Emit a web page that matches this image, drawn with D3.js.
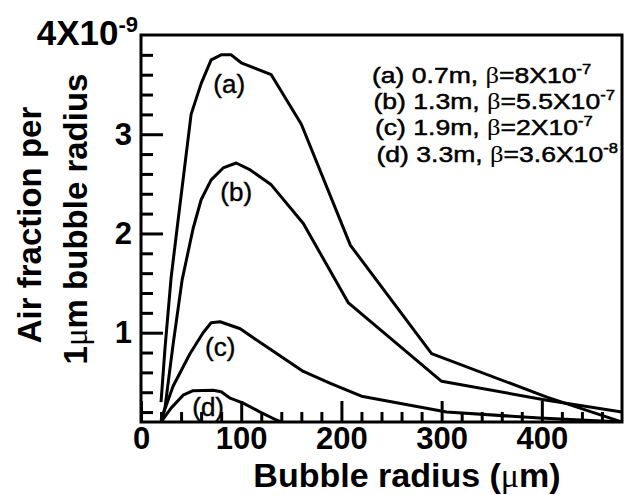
<!DOCTYPE html>
<html>
<head>
<meta charset="utf-8">
<script src="https://cdn.jsdelivr.net/npm/d3@7"></script>
<style>
  body { margin: 0; background: #fff; }
  text { font-family: "Liberation Sans", Arial, Helvetica, sans-serif; fill: #000; }
</style>
</head>
<body>
<svg id="chart" width="626" height="495"></svg>
<script>
// curve values (radius in um, air fraction in 1e-9)
const radiusA = [20, 24, 30, 36, 50, 60, 70, 80, 90, 100, 130, 160, 209, 290, 405, 480]
const fracA   = [0.3, 0.85, 1.55, 2.05, 3.2, 3.51, 3.75, 3.8, 3.8, 3.72, 3.6, 3.1, 1.88, 0.79, 0.35, 0.1]
const radiusB = [21, 24, 32, 41, 52, 60, 70, 82, 95, 109, 130, 162, 207, 300, 405, 480]
const fracB   = [0.13, 0.25, 0.88, 1.53, 2.05, 2.34, 2.54, 2.66, 2.71, 2.64, 2.49, 2.1, 1.3, 0.51, 0.32, 0.2]
const radiusC = [20, 32, 49, 62, 70, 79, 99, 122, 162, 189, 220, 305, 398, 480]
const fracC   = [0.12, 0.46, 0.79, 1.0, 1.1, 1.11, 1.04, 0.88, 0.61, 0.49, 0.36, 0.2, 0.14, 0.1]
const radiusD = [20, 30, 42, 52, 72, 80, 89, 102, 119, 135, 145]
const fracD   = [0.1, 0.24, 0.37, 0.415, 0.42, 0.405, 0.34, 0.29, 0.2, 0.12, 0.08]

const curveTags = ['(a)', '(b)', '(c)', '(d)']
const depths = ['0.7m', '1.3m', '1.9m', '3.3m']
const betaMantissa = ['8', '5.5', '2', '3.6']
const betaExponent = ['-7', '-7', '-7', '-8']

const xMajorTicks = [0, 100, 200, 300, 400]
const yMajorTicks = [1, 2, 3]
const yTopLabel = '4X10'
const yTopExponent = '-9'

const series = [
    d3.zip(radiusA, fracA),
    d3.zip(radiusB, fracB),
    d3.zip(radiusC, fracC),
    d3.zip(radiusD, fracD)
]

// where the (a)..(d) tags sit, in data units
const tagAt = [[88, 3.51], [95, 2.42], [79, 0.86], [67, 0.25]]

const svg = d3.select('#chart')
const x = d3.scaleLinear().domain([0, 480]).range([141, 622])
const y = d3.scaleLinear().domain([0.1, 4]).range([422, 35])

svg.append('clipPath').attr('id', 'plot')
    .append('rect')
    .attr('x', x(0)).attr('y', y(4))
    .attr('width', x(480) - x(0)).attr('height', y(0.1) - y(4))

// inward minor / major ticks
const xMinor = d3.range(20, 480, 20).filter(d => d % 100 !== 0)
const yMinor = d3.range(0.2, 4, 0.2).filter(d => Math.abs(d - Math.round(d)) > 0.01)

const styleAxis = g => {
    g.select('.domain').remove()
    g.selectAll('line').attr('stroke', '#000').attr('stroke-width', 3)
    g.selectAll('text').attr('font-size', 31).attr('font-weight', 'bold').attr('fill', '#000')
}

svg.append('g').attr('transform', `translate(0,${y(0.1)})`)
    .call(d3.axisBottom(x).tickValues(xMinor).tickSize(-10).tickFormat(''))
    .call(styleAxis)
svg.append('g').attr('transform', `translate(0,${y(0.1)})`)
    .call(d3.axisBottom(x).tickValues(xMajorTicks).tickSize(-21).tickPadding(5).tickFormat(d3.format('d')))
    .call(styleAxis)

svg.append('g').attr('transform', `translate(${x(0)},0)`)
    .call(d3.axisLeft(y).tickValues(yMinor).tickSize(-12).tickFormat(''))
    .call(styleAxis)
svg.append('g').attr('transform', `translate(${x(0)},0)`)
    .call(d3.axisLeft(y).tickValues(yMajorTicks).tickSize(-22).tickPadding(9).tickFormat(d3.format('d')))
    .call(styleAxis)

// 4X10^-9 at the top of the y axis
const topLabel = svg.append('text')
    .attr('x', x(0) - 3).attr('y', y(4) + 10)
    .attr('text-anchor', 'end')
    .attr('font-size', 35).attr('font-weight', 'bold')
topLabel.append('tspan').text(yTopLabel)
topLabel.append('tspan').attr('font-size', 22).attr('dy', -13).text(yTopExponent)

// frame
svg.append('rect')
    .attr('x', x(0)).attr('y', y(4))
    .attr('width', x(480) - x(0)).attr('height', y(0.1) - y(4))
    .attr('fill', 'none').attr('stroke', '#000').attr('stroke-width', 3)

const line = d3.line().x(d => x(d[0])).y(d => y(d[1]))

svg.append('g').attr('clip-path', 'url(#plot)')
    .selectAll('path')
    .data(series)
    .join('path')
    .attr('d', line)
    .attr('fill', 'none')
    .attr('stroke', '#000')
    .attr('stroke-width', 3)
    .attr('stroke-linejoin', 'round')

svg.selectAll('text.tag')
    .data(curveTags)
    .join('text')
    .attr('class', 'tag')
    .attr('x', (d, i) => x(tagAt[i][0]))
    .attr('y', (d, i) => y(tagAt[i][1]))
    .attr('dy', '0.35em')
    .attr('text-anchor', 'middle')
    .attr('font-size', 26)
    .attr('stroke', '#000').attr('stroke-width', 0.4)
    .text(d => d)

// legend: the scanned font is wider than Arial, so stretch it a bit
const legend = svg.append('g')
curveTags.forEach((tag, i) => {
    const t = legend.append('text')
        .attr('transform', `translate(${372 + i * 1.5},${83 + i * 26.2}) scale(1.18,1)`)
        .attr('font-size', 22.5)
        .attr('stroke', '#000').attr('stroke-width', 0.5)
    t.append('tspan').text(`${tag} ${depths[i]}, `)
    t.append('tspan').attr('font-family', '"Liberation Serif", serif').attr('stroke-width', 0).text('\u03b2')
    t.append('tspan').text(`=${betaMantissa[i]}X10`)
    t.append('tspan').attr('font-size', 14).attr('dy', -9).text(betaExponent[i])
})

// axis titles
const xt = svg.append('text')
    .attr('x', 407).attr('y', 487)
    .attr('text-anchor', 'middle')
    .attr('font-size', 34).attr('font-weight', 'bold')
xt.append('tspan').text('Bubble radius (')
xt.append('tspan').attr('font-weight', 'normal').attr('font-family', '"Liberation Serif", serif').text('\u03bc')
xt.append('tspan').text('m)')

const yt = svg.append('text')
    .attr('transform', 'translate(41,225) rotate(-90)')
    .attr('text-anchor', 'middle')
    .attr('font-size', 33).attr('font-weight', 'bold')
yt.append('tspan').attr('x', 0).attr('y', 0).text('Air fraction per')
const yt2 = yt.append('tspan').attr('x', 6).attr('y', 46)
yt2.append('tspan').text('1')
yt2.append('tspan').attr('font-weight', 'normal').attr('font-family', '"Liberation Serif", serif').text('\u03bc')
yt2.append('tspan').text('m bubble radius')
</script>
</body>
</html>
